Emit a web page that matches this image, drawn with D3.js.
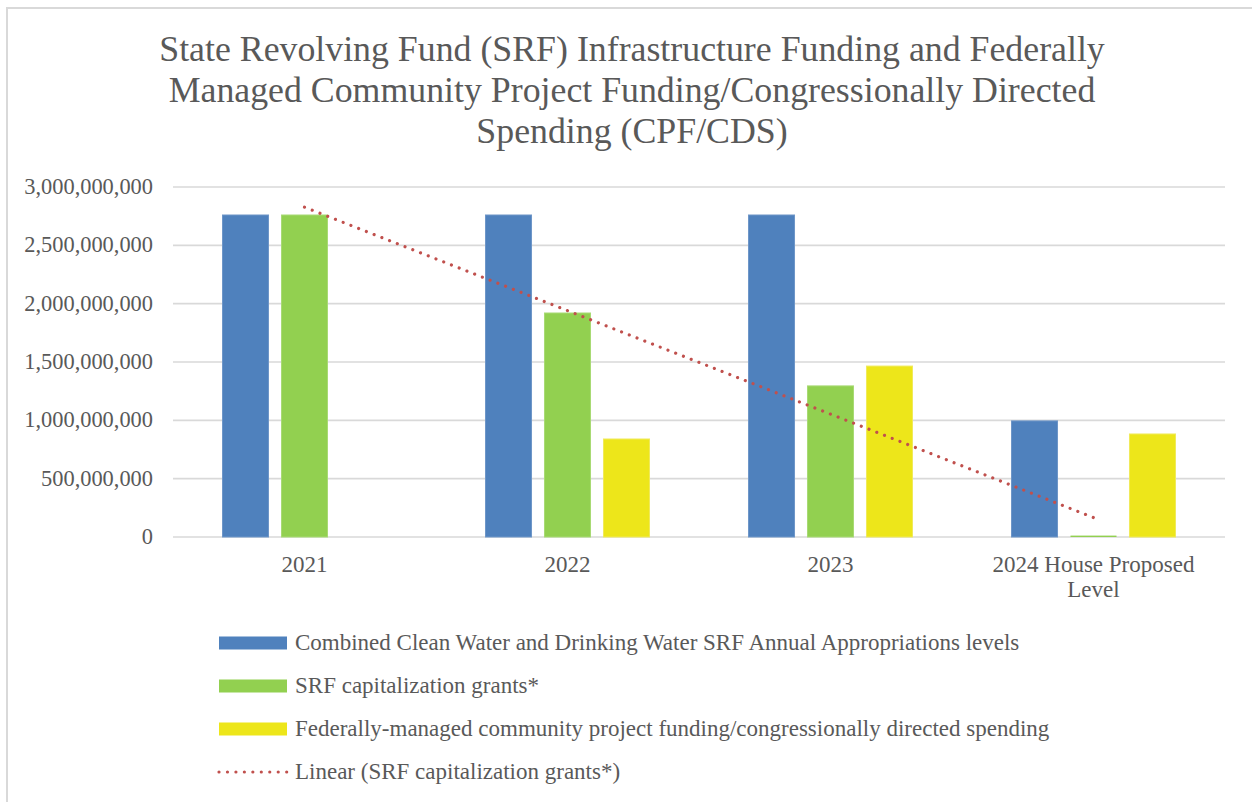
<!DOCTYPE html>
<html>
<head>
<meta charset="utf-8">
<script src="https://cdn.jsdelivr.net/npm/d3@7"></script>
<style>
body { margin: 0; background: #fff; }
svg { display: block; }
text { font-family: "Liberation Serif", "DejaVu Serif", serif; fill: #595959; }
</style>
</head>
<body>
<svg id="chart" width="1252" height="802"></svg>
<script>
// chart data
let categories = ["2021", "2022", "2023", "2024 House Proposed Level"];
let catLines = [["2021"], ["2022"], ["2023"], ["2024 House Proposed", "Level"]];
let seriesNames = [
  "Combined Clean Water and Drinking Water SRF Annual Appropriations levels",
  "SRF capitalization grants*",
  "Federally-managed community project funding/congressionally directed spending"
];
let combined = [2760000000, 2760000000, 2760000000, 995000000];
let capGrants = [2760000000, 1920000000, 1295000000, 12000000];
let cpfCds = [0, 840000000, 1465000000, 883000000];
let yTicks = [0, 500000000, 1000000000, 1500000000, 2000000000, 2500000000, 3000000000];
let titleLines = [
  "State Revolving Fund (SRF) Infrastructure Funding and Federally",
  "Managed Community Project Funding/Congressionally Directed",
  "Spending (CPF/CDS)"
];
let trendName = "Linear (SRF capitalization grants*)";

let colors = ["#4F81BD", "#92D050", "#EDE61A"];
let strokes = ["#6E96C8", "#A8DA74", "#F0EA5A"];
let trendColor = "#C0504D";

let svg = d3.select("#chart");

// outer chart border
svg.append("rect").attr("x", 7).attr("y", 8).attr("width", 1260).attr("height", 810)
  .attr("fill", "none").attr("stroke", "#D9D9D9").attr("stroke-width", 2);

// title
svg.append("g").selectAll("text").data(titleLines).enter().append("text")
  .attr("x", 632).attr("y", (d, i) => 61 + i * 41)
  .attr("text-anchor", "middle").style("font-size", "35.8px")
  .text(d => d);

let pLeft = 173, pRight = 1225, pTop = 187, pBottom = 537;

let x = d3.scaleBand().domain(categories).range([pLeft, pRight]).padding(0);
let bw = x.bandwidth();
let xs = d3.scaleBand().domain([0, 1, 2]).range([bw / 2 - 82, bw / 2 + 82]).paddingInner(0.22);
let y = d3.scaleLinear().domain([0, 3000000000]).range([pBottom, pTop]);

// gridlines
svg.append("g").selectAll("line").data(yTicks).enter().append("line")
  .attr("x1", pLeft).attr("x2", pRight)
  .attr("y1", d => y(d)).attr("y2", d => y(d))
  .attr("stroke", "#D9D9D9").attr("stroke-width", 1.6);

// y axis labels
let fmt = d3.format(",");
svg.append("g").selectAll("text").data(yTicks).enter().append("text")
  .attr("x", 153).attr("y", d => y(d) + 7)
  .attr("text-anchor", "end").style("font-size", "22.4px")
  .text(d => fmt(d));

// bars
let series = [combined, capGrants, cpfCds];
series.forEach((vals, si) => {
  svg.append("g").selectAll("rect").data(vals).enter().append("rect")
    .attr("x", (d, i) => x(categories[i]) + xs(si))
    .attr("y", d => y(d))
    .attr("width", xs.bandwidth())
    .attr("height", d => y(0) - y(d))
    .attr("fill", colors[si])
    .attr("stroke", d => d > 50000000 ? strokes[si] : "none")
    .attr("stroke-width", 1);
});

// linear trendline of capitalization grants
let n = capGrants.length;
let xi = d3.range(1, n + 1);
let mx = d3.mean(xi), my = d3.mean(capGrants);
let slope = d3.sum(xi, (v, i) => (v - mx) * (capGrants[i] - my)) / d3.sum(xi, v => (v - mx) * (v - mx));
let icpt = my - slope * mx;
let trendPts = [1, n].map(v => [x(categories[v - 1]) + bw / 2, y(icpt + slope * v)]);
svg.append("path").attr("d", d3.line()(trendPts))
  .attr("fill", "none").attr("stroke", trendColor).attr("stroke-width", 3.2)
  .attr("stroke-linecap", "round").attr("stroke-dasharray", "0.01 8.3");

// x labels
catLines.forEach((lines, i) => {
  svg.append("g").selectAll("text").data(lines).enter().append("text")
    .attr("x", x(categories[i]) + bw / 2)
    .attr("y", (d, j) => 572 + j * 25)
    .attr("text-anchor", "middle").style("font-size", "23px")
    .text(d => d);
});

// legend
let legendItems = seriesNames.map((s, i) => ({ name: s, color: colors[i], type: "bar" }));
legendItems.push({ name: trendName, color: trendColor, type: "line" });
let lg = svg.append("g");
legendItems.forEach((d, i) => {
  let ly = 643 + i * 43;
  if (d.type === "bar") {
    lg.append("rect").attr("x", 219).attr("y", ly - 6.5).attr("width", 68).attr("height", 13)
      .attr("fill", d.color);
  } else {
    lg.append("line").attr("x1", 219).attr("x2", 287).attr("y1", ly).attr("y2", ly)
      .attr("stroke", d.color).attr("stroke-width", 3.2)
      .attr("stroke-linecap", "round").attr("stroke-dasharray", "0.01 8.45");
  }
  lg.append("text").attr("x", 295).attr("y", ly + 7).style("font-size", "23px").text(d.name);
});
</script>
</body>
</html>
